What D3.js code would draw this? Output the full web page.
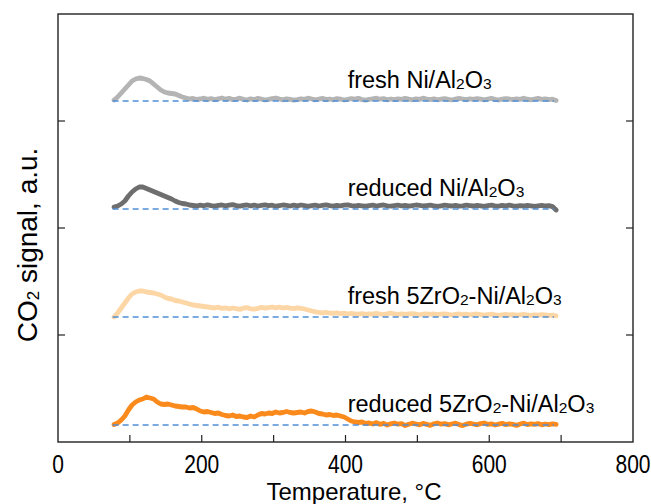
<!DOCTYPE html>
<html><head><meta charset="utf-8">
<script src="https://cdn.jsdelivr.net/npm/d3@7/dist/d3.min.js"></script>
<style>body{margin:0;background:#fff;}svg{display:block;font-family:"Liberation Sans",Arial,sans-serif;}</style>
</head><body><svg id="c" width="651" height="504"></svg>
<script>
const temps = d3.range(78, 694, 5);
const seriesNames = ["fresh Ni/Al2O3", "reduced Ni/Al2O3", "fresh 5ZrO2-Ni/Al2O3", "reduced 5ZrO2-Ni/Al2O3"];
const offsets = [341, 233, 125, 17];
const colors = ["#b4b4b4", "#6e6e6e", "#fdd6a6", "#fb8a1c"];
const freshNi = [
 1, 4, 8, 12, 16, 20, 22, 23, 22.5, 21.5,
 20, 17, 14, 11, 9, 8, 7.5, 7, 5.5, 4,
 3, 2, 2.5, 1.5, 2, 2.8, 1.6, 2.4, 1.2, 2.2,
 3, 1.8, 2.6, 1.4, 2, 2.8, 1.6, 1, 2.2, 1.4,
 2.6, 1.8, 1, 1.6, 2.4, 3, 2, 1.2, 2.2, 1.6,
 0.8, 1.4, 2.2, 1.6, 2.8, 2, 1.2, 1.8, 2.6, 1.4,
 2, 1.2, 2.4, 1.8, 1, 1.6, 2.4, 1.8, 2.6, 1.4,
 0.8, 1.6, 2.2, 2.8, 1.8, 2.4, 1.2, 2, 1.4, 2.2,
 1.6, 2.6, 1.8, 1.2, 2.2, 1.6, 2.8, 2, 1.4, 2.2,
 1.2, 1.8, 2.4, 1.6, 1, 1.8, 2.6, 2, 1.4, 2.2,
 1.6, 2.4, 1.8, 1.2, 2, 2.6, 1.6, 1, 1.8, 2.4,
 2, 1.4, 2.2, 1.6, 2.8, 1.8, 1.2, 2, 2.6, 1.6,
 2.2, 1.4, 1.8, 0.5];
const reducedNi = [
 2, 3, 5, 8, 13, 17, 20, 22, 22, 20.5,
 19, 17.5, 16, 14.5, 13, 11.5, 10, 8, 6.5, 5.5,
 5, 4, 3.5, 3, 3.8, 3.2, 4.2, 3.4, 2.8, 3.6,
 4, 3.2, 3.8, 4.4, 3.4, 2.8, 3.6, 4, 3.2, 3.8,
 3, 3.6, 4.2, 3.4, 3.8, 2.8, 3.4, 4, 3.6, 3,
 3.8, 3.2, 4, 3.4, 2.6, 3.4, 3.8, 3, 3.6, 4.2,
 3.4, 2.8, 3.6, 3.2, 3.8, 4.2, 3.4, 3, 3.6, 3.2,
 2.8, 3.4, 3.8, 3, 3.6, 4, 3.2, 2.8, 3.4, 3.8,
 3.2, 3.6, 2.8, 3.4, 4, 3.6, 3, 3.4, 3.8, 3.2,
 2.6, 3.2, 3.8, 3.4, 3, 3.6, 2.8, 3.2, 3.8, 3.4,
 3, 3.6, 3.2, 2.6, 3.4, 3.8, 3.2, 2.8, 3.6, 3.2,
 3.8, 3.2, 2.8, 3.4, 3, 3.6, 3.2, 2.6, 3.2, 3.6,
 3, 3.4, 2.4, -1];
const freshZr = [
 0, 4, 9, 14, 19, 23, 25, 26, 26, 25,
 24.5, 24, 23, 22, 20, 18.5, 18, 16.5, 16, 15,
 14, 13, 12, 11.5, 11, 10.5, 10, 9.5, 9, 9.8,
 8.6, 9.2, 8.2, 9, 8.4, 7.6, 8.8, 9.4, 8.2, 7.8,
 8.6, 9.6, 8.8, 9.4, 10, 9.2, 9.8, 9, 9.6, 8.8,
 8.4, 9.2, 8.6, 8, 7, 6, 5.2, 4.6, 4.2, 4.6,
 4, 3.6, 4.2, 3.4, 3.8, 3, 3.6, 3.2, 2.8, 3.4,
 2.6, 3.2, 2.8, 3.6, 3, 2.4, 3.2, 3.8, 3, 2.6,
 3.2, 2.6, 3, 3.4, 2.8, 2.2, 2.8, 3.2, 2.6, 3,
 2.4, 2.8, 3.2, 2.6, 2, 2.6, 3, 2.4, 2.8, 2.2,
 2.6, 3, 2.4, 1.8, 2.4, 2.8, 2.2, 1.6, 2.2, 2.6,
 2, 2.4, 1.8, 2.2, 2.6, 2, 1.6, 2.2, 1.8, 2.4,
 2, 1.6, 1.8, 1.2];
const reducedZr = [
 0.5, 2, 5, 9, 15, 20, 23, 25, 26, 28,
 27, 26, 23, 21, 20.5, 21, 20, 19, 18.5, 18,
 18, 17, 17.5, 16, 14, 13, 13.5, 12.5, 11.5, 12,
 10.5, 9.5, 9, 10, 8.5, 9, 8, 7.5, 9, 8,
 10, 11.5, 11, 12, 11.5, 13, 12, 12.5, 13.5, 12.5,
 12, 12.5, 13, 12, 13.5, 14, 13, 11.5, 11, 10,
 10.5, 9.5, 10, 9, 8, 6, 4, 3, 2.5, 3,
 1.5, 2, 1, 2.4, 0.6, 1.6, 0, 1.2, 2, 0.8,
 1.4, -0.6, 0.8, 1.8, 1, 0.2, 1.6, 0.6, -0.4, 1.2,
 2, 0.8, 1.4, 0.2, 1, 1.8, 0.4, -0.6, 0.8, 1.6,
 1, 0.2, 1.4, 2, 0.6, 1.2, 0, 0.8, 1.6, 0.4,
 1.2, 0.6, -0.4, 1, 1.8, 0.4, 1.2, 0.6, 1.4, 0.2,
 1, 0.4, 1.2, 0.6];
const allSeries = [freshNi, reducedNi, freshZr, reducedZr];
const xTicks = [0, 200, 400, 600, 800];
const xMinor = [100, 200, 300, 400, 500, 600, 700];
const yTicks = [107, 214, 321];
const labelTemp = 403;
const baseRange = [76, 690];

const svg = d3.select("#c");
const L = 58, R = 633, T = 14, B = 442;
const x = d3.scaleLinear().domain([0, 800]).range([L, R]);
const y = d3.scaleLinear().domain([0, 428]).range([B, T]);

const line = d3.line().x(d => x(d[0])).y(d => y(d[1]));
allSeries.forEach((s, i) => {
  const pts = temps.map((t, j) => [t, offsets[i] + s[j]]);
  svg.append("path").attr("d", line(pts)).attr("fill", "none")
    .attr("stroke", colors[i]).attr("stroke-width", 4.8)
    .attr("stroke-linejoin", "round").attr("stroke-linecap", "round");
});
offsets.forEach(o => {
  svg.append("line").attr("x1", x(baseRange[0])).attr("x2", x(baseRange[1]))
    .attr("y1", y(o)).attr("y2", y(o))
    .attr("stroke", "#4f8fd6").attr("stroke-width", 1.5).attr("stroke-dasharray", "6,4");
});

function addLabel(name, i) {
  const t = svg.append("text").attr("x", x(labelTemp)).attr("y", y(offsets[i]) - 13)
    .attr("font-size", 23.5).attr("fill", "#000");
  const parts = name.split(/(\d)/);
  let prevSub = false;
  parts.forEach((p, k) => {
    if (p === "") return;
    const isSub = /\d/.test(p) && !(p === "5" && k > 0 && /\s$/.test(parts[k-1]));
    if (isSub) {
      t.append("tspan").attr("font-size", 15.5).attr("dy", prevSub ? 0 : 1).text(p);
      prevSub = true;
    } else {
      t.append("tspan").attr("dy", prevSub ? -1 : 0).text(p);
      prevSub = false;
    }
  });
}
seriesNames.forEach(addLabel);

svg.append("rect").attr("x", L).attr("y", T).attr("width", R - L).attr("height", B - T)
  .attr("fill", "none").attr("stroke", "#222").attr("stroke-width", 1.4);
xMinor.forEach(v => {
  svg.append("line").attr("x1", x(v)).attr("x2", x(v)).attr("y1", B).attr("y2", B - 7)
    .attr("stroke", "#222").attr("stroke-width", 1.2);
});
yTicks.forEach(v => {
  svg.append("line").attr("x1", L).attr("x2", L + 7).attr("y1", y(v)).attr("y2", y(v)).attr("stroke", "#222").attr("stroke-width", 1.2);
  svg.append("line").attr("x1", R).attr("x2", R - 7).attr("y1", y(v)).attr("y2", y(v)).attr("stroke", "#222").attr("stroke-width", 1.2);
});
xTicks.forEach(v => {
  svg.append("text").attr("transform", `translate(${x(v)},472.5) scale(0.84,1)`).attr("text-anchor", "middle")
    .attr("font-size", 25).text(v);
});
svg.append("text").attr("x", 354).attr("y", 499.5).attr("text-anchor", "middle")
  .attr("font-size", 24).text("Temperature,  \u00B0C");
const yl = svg.append("text").attr("transform", "translate(37,245) rotate(-90)")
  .attr("text-anchor", "middle").attr("font-size", 28);
yl.append("tspan").text("CO");
yl.append("tspan").attr("font-size", 17).attr("dy", 2).text("2");
yl.append("tspan").attr("dy", -2).text(" signal, a.u.");
</script></body></html>
